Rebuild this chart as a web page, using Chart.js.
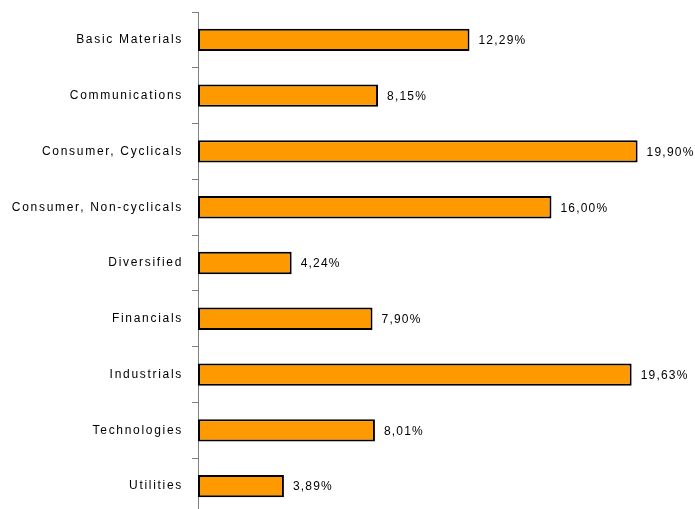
<!DOCTYPE html>
<html>
<head>
<meta charset="utf-8">
<script src="https://cdn.jsdelivr.net/npm/chart.js@4/dist/chart.umd.min.js"></script>
<style>
  html, body { margin: 0; padding: 0; background: #fff; overflow: hidden; }
  canvas { display: block; }
</style>
</head>
<body>
<canvas id="c" width="695" height="514" style="width:695px;height:514px"></canvas>
<script>
const categories = [
  "Basic Materials",
  "Communications",
  "Consumer, Cyclicals",
  "Consumer, Non-cyclicals",
  "Diversified",
  "Financials",
  "Industrials",
  "Technologies",
  "Utilities"
];
const shares = [12.29, 8.15, 19.90, 16.00, 4.24, 7.90, 19.63, 8.01, 3.89];
const valueLabels = ["12,29%", "8,15%", "19,90%", "16,00%", "4,24%", "7,90%", "19,63%", "8,01%", "3,89%"];

const FONT = "'Liberation Sans', Arial, Helvetica, sans-serif";
const SPACING = '1.7px';
const VALUE_SPACING = '1.2px';

const spacingPlugin = {
  id: 'spacing',
  beforeUpdate(chart) { chart.ctx.letterSpacing = SPACING; },
  beforeLayout(chart) { chart.ctx.letterSpacing = SPACING; },
  beforeDraw(chart) { chart.ctx.letterSpacing = SPACING; }
};

const valuePlugin = {
  id: 'values',
  afterDatasetsDraw(chart) {
    const ctx = chart.ctx;
    const meta = chart.getDatasetMeta(0);
    ctx.save();
    ctx.letterSpacing = VALUE_SPACING;
    ctx.font = '12px ' + FONT;
    ctx.fillStyle = '#000';
    ctx.textAlign = 'left';
    ctx.textBaseline = 'middle';
    meta.data.forEach((bar, i) => {
      ctx.fillText(valueLabels[i], bar.x + 9, bar.y + 1);
    });
    ctx.restore();
  }
};

new Chart(document.getElementById('c'), {
  type: 'bar',
  data: {
    labels: categories,
    datasets: [{
      data: shares,
      backgroundColor: '#FF9900',
      borderColor: '#000000',
      borderWidth: 2,
      borderSkipped: false,
      barPercentage: 0.8,
      categoryPercentage: 0.5
    }]
  },
  options: {
    indexAxis: 'y',
    responsive: false,
    animation: false,
    devicePixelRatio: 1,
    layout: { padding: { top: 12, bottom: 0, left: 0, right: 11 } },
    plugins: {
      legend: { display: false },
      tooltip: { enabled: false },
      title: { display: false }
    },
    scales: {
      x: {
        display: false,
        min: 0,
        max: 22
      },
      y: {
        offset: true,
        afterFit(scale) {
          scale.width = 198;
          scale.paddingTop = 0;
          scale.paddingBottom = 0;
        },
        border: { display: true, color: '#808080', width: 1 },
        grid: {
          offset: true,
          drawOnChartArea: false,
          drawTicks: true,
          tickLength: 6,
          color: '#808080'
        },
        ticks: {
          color: '#000',
          padding: 9,
          font: { family: FONT, size: 12 }
        }
      }
    }
  },
  plugins: [spacingPlugin, valuePlugin]
});
</script>
</body>
</html>
